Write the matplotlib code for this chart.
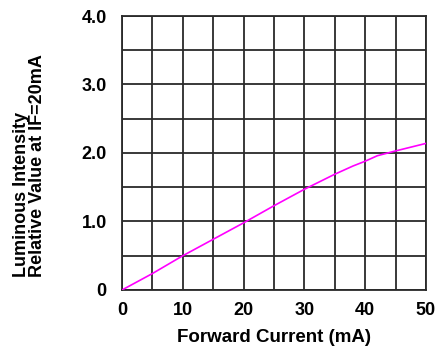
import numpy as np
import matplotlib
matplotlib.use("Agg")
import matplotlib.pyplot as plt

plt.rcParams['font.family'] = ['Liberation Sans', 'DejaVu Sans']

# data
current = [0, 5, 10, 15, 20, 25, 30, 35, 38, 40, 42, 45, 50]
lum = [0.0, 0.24, 0.50, 0.74, 0.98, 1.23, 1.47, 1.69, 1.81, 1.88, 1.96, 2.03, 2.14]

xticks = [0, 10, 20, 30, 40, 50]
yticks = [0, 1, 2, 3, 4]
ylabels = ["0", "1.0", "2.0", "3.0", "4.0"]

fig = plt.figure(figsize=(4.46, 3.54), dpi=100)
ax = fig.add_axes([0.2735, 0.1808, 0.6815, 0.774])

ax.plot(current, lum, color='#ff00ff', lw=1.2, zorder=3)

ax.set_xlim(0, 50)
ax.set_ylim(0, 4)
ax.set_xticks(xticks)
ax.set_yticks(yticks)
ax.set_yticklabels(ylabels)
ax.set_xticks(np.arange(0, 51, 5), minor=True)
ax.set_yticks(np.arange(0, 4.01, 0.5), minor=True)
ax.grid(which='both', color='#2a2a2a', lw=1.3)
ax.tick_params(which='both', length=0)
ax.tick_params(axis='x', pad=9)
ax.tick_params(axis='y', pad=11)
for lab in ax.get_xticklabels() + ax.get_yticklabels():
    lab.set_fontsize(13)
    lab.set_fontweight('bold')
for s in ax.spines.values():
    s.set_color('#2a2a2a')
    s.set_linewidth(1.3)

ax.set_xlabel("Forward Current (mA)", fontsize=13.5, fontweight='bold', labelpad=7)
fig.text(0.066, 0.217, "Luminous Intensity\nRelative Value at IF=20mA",
         rotation=90, ha='center', va='bottom', multialignment='left',
         fontsize=13, fontweight='bold', linespacing=0.9)

fig.savefig("out.png", dpi=100)
